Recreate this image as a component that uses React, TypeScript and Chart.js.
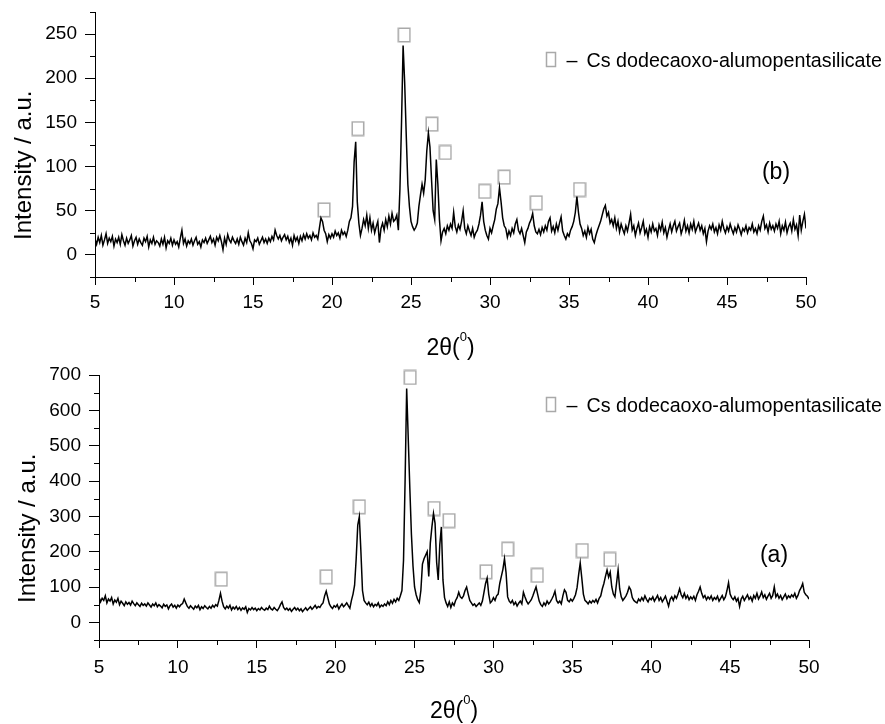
import React, { useEffect, useRef } from 'react';
import { Chart, registerables } from 'chart.js';

Chart.register(...registerables);

// 2θ grid of the scans (degrees)
const TWO_THETA_START = 5;
const TWO_THETA_STEP = 0.1;

// (b) intensities, 5.0° … 50.0° every 0.1°
const INTENSITY_B = [
  18, 12, 20, 14, 22, 11, 17, 24, 13, 19,
  15, 21, 10, 18, 14, 20, 12, 23, 16, 11,
  19, 13, 17, 22, 10, 16, 20, 12, 18, 14,
  11, 19, 15, 21, 9, 17, 13, 20, 12, 16,
  14, 10, 18, 12, 20, 8, 16, 13, 19, 11,
  17, 12, 15, 9, 19, 28, 13, 18, 10, 16,
  13, 18, 11, 16, 20, 12, 15, 9, 17, 14,
  19, 13, 17, 21, 14, 18, 11, 20, 16, 22,
  15, 6, 19, 12, 23, 17, 14, 20, 16, 13,
  18, 12, 20, 15, 11, 19, 14, 25, 16, 13,
  7, 17, 15, 19, 12, 16, 20, 14, 18, 13,
  19, 15, 21, 17, 28, 22, 18, 22, 16, 20,
  23, 17, 21, 14, 19, 11, 22, 16, 20, 13,
  21, 16, 23, 18, 24, 19, 22, 17, 25, 20,
  22, 18, 30, 42, 38, 28, 24, 15, 23, 19,
  24, 20, 27, 22, 25, 19, 28, 23, 26, 21,
  28, 38, 42, 55, 105, 128, 60, 36, 22, 30,
  40, 33, 45, 30, 42, 28, 36, 25, 32, 38,
  14, 30, 36, 28, 40, 32, 44, 35, 47, 38,
  40, 45, 28, 75, 150, 237, 195, 135, 80, 55,
  38, 32, 28, 31, 36, 55, 68, 80, 70, 85,
  118, 138, 122, 85, 50, 40, 108, 80, 40, 16,
  26, 30, 24, 33, 28, 35, 30, 48, 32, 26,
  34, 29, 38, 50, 30, 24, 33, 27, 22, 30,
  20, 25, 28, 35, 45, 60, 38, 28, 22, 18,
  30, 25, 33, 40, 52, 58, 76, 60, 42, 33,
  30, 20, 27, 22, 30, 25, 35, 40, 28, 24,
  30, 22, 14, 26, 30, 36, 40, 47, 33, 26,
  24, 29, 23, 31, 26, 33, 28, 38, 42, 27,
  32, 25, 35, 28, 36, 43, 27, 22, 18, 24,
  21, 28, 32, 38, 48, 66, 48, 35, 30, 22,
  27, 20, 31, 24, 29, 18, 14, 22, 28, 33,
  38, 45, 52, 56, 44, 48, 36, 40, 33, 42,
  30, 38, 26, 35, 29, 24, 33, 27, 36, 46,
  28, 33, 22, 30, 36, 25, 31, 38, 24, 29,
  20, 32, 26, 35, 27, 30, 22, 34, 28, 37,
  25, 31, 20, 28, 35, 26, 33, 38, 27, 32,
  36, 24, 30, 39, 27, 33, 25, 35, 29, 38,
  26, 31, 36, 28, 33, 24, 30, 15, 27, 33,
  29, 35, 26, 31, 24, 34, 28, 38, 30, 25,
  32, 27, 35, 29, 24, 31, 26, 34, 29, 23,
  30, 27, 33, 25, 31, 28, 35, 26, 30, 24,
  33, 28, 38, 44, 30, 34, 26, 36, 29, 33,
  27, 35, 30, 38, 24, 33, 28, 37, 25, 32,
  36, 27, 40, 29, 34, 22, 45, 28, 38, 46,
  30,
];

// (a) intensities, 5.0° … 50.0° every 0.1°
const INTENSITY_A = [
  72, 58, 68, 62, 75, 55, 66, 60, 70, 52,
  63, 57, 68, 50, 60, 54, 47, 58, 51, 56,
  49, 60, 53, 47, 55, 50, 45, 54, 48, 52,
  46, 55, 49, 43, 52, 47, 55, 44, 50, 46,
  41, 51, 45, 49, 38, 47, 52, 43, 48, 40,
  49, 44, 50, 53, 66, 55, 45, 40, 47, 42,
  37, 46, 41, 48, 36, 44, 39, 47, 42, 38,
  45, 40, 48, 43, 50, 46, 62, 82, 60, 44,
  38, 46, 40, 48, 35, 43, 38, 45, 36, 42,
  34, 41, 37, 44, 28, 39, 35, 42, 36, 40,
  33, 39, 35, 42, 37, 34, 40, 36, 46, 38,
  35, 42, 37, 33, 40, 50, 58, 42, 36, 40,
  34, 39, 31, 37, 42, 35, 40, 33, 38, 30,
  36, 41, 34, 39, 44, 37, 42, 48, 40, 45,
  42, 50, 55, 75, 88, 70, 52, 44, 39, 47,
  43, 50, 38, 46, 52, 44, 49, 55, 47, 40,
  62, 80, 105, 180, 275, 299, 200, 90, 62, 55,
  50, 57, 46, 53, 44, 51, 47, 55, 43, 49,
  45, 52, 47, 58, 50, 62, 54, 65, 58, 68,
  62, 75, 90, 175, 400, 662, 520, 380, 250, 160,
  100, 78, 64, 56, 90, 165, 180, 190, 200, 130,
  225, 270, 308, 280, 170, 120, 220, 270, 120, 70,
  55, 45, 58, 42, 55, 48, 62, 70, 85, 72,
  68, 75, 90, 100, 80, 62, 55, 48, 52, 45,
  50, 55, 48, 60, 85, 110, 125, 80, 55, 60,
  70, 62, 75, 80, 110, 130, 150, 180, 140, 72,
  60, 55, 62, 50, 57, 46, 54, 60, 52, 85,
  72, 60, 52, 58, 64, 75, 88, 100, 80, 60,
  50, 45, 55, 48, 60, 52, 58, 66, 75, 88,
  62, 55, 60, 52, 75, 92, 85, 62, 58, 66,
  60, 68, 78, 98, 135, 168, 125, 80, 62, 58,
  52, 60, 55, 62, 57, 65, 55, 68, 75, 95,
  110, 130, 148, 128, 142, 100, 80, 72, 110, 148,
  95, 72, 62, 68, 75, 85, 100, 92, 70, 62,
  58, 55, 66, 60, 70, 62, 75, 65, 58, 68,
  64, 72, 60, 68, 76, 62, 70, 58, 66, 74,
  60, 46, 65, 72, 62, 75, 68, 80, 95, 78,
  70, 82, 68, 76, 64, 72, 66, 74, 62, 78,
  88, 100, 82, 70, 76, 64, 72, 66, 75, 62,
  70, 65, 74, 60, 68, 76, 64, 72, 90, 112,
  80, 70, 64, 72, 60, 68, 45, 66, 74, 62,
  70, 78, 65, 72, 60, 76, 68, 82, 66, 74,
  86, 70, 78, 65, 74, 82, 68, 76, 100, 72,
  80, 68, 76, 64, 72, 80, 67, 75, 70, 78,
  72, 82, 68, 76, 90, 98, 110, 85, 78, 74,
  66,
];

// peak marks (□) : positions in 2θ and intensity units
const MARK_B_X = [19.5, 21.64, 24.57, 26.32, 27.17, 29.66, 30.9, 32.93, 35.67];
const MARK_B_Y = [51, 143, 249, 148, 116, 72, 88, 59, 74];
const MARK_A_X = [12.75, 19.4, 21.5, 24.72, 26.24, 27.19, 29.53, 30.9, 32.78, 35.63, 37.38];
const MARK_A_Y = [122, 129, 327, 693, 322, 288, 143, 207, 133, 203, 178];

// axes
const X_TICKS = [5, 10, 15, 20, 25, 30, 35, 40, 45, 50];
const X_MINOR = [7.5, 12.5, 17.5, 22.5, 27.5, 32.5, 37.5, 42.5, 47.5];
const Y_TICKS_B = [0, 50, 100, 150, 200, 250];
const Y_MINOR_B = [-25, 25, 75, 125, 175, 225, 275];
const Y_TICKS_A = [0, 100, 200, 300, 400, 500, 600, 700];
const Y_MINOR_A = [-50, 50, 150, 250, 350, 450, 550, 650];

const Y_TITLE = 'Intensity / a.u.';
const X_TITLE_MAIN = '2θ(';
const X_TITLE_SUP = '0';
const X_TITLE_END = ')';
const LEGEND_DASH = '–';
const LEGEND_TEXT = 'Cs dodecaoxo-alumopentasilicate';

const FONT = "Arial, 'Liberation Sans', sans-serif";
const MARK_GRAY = '#a9a9a9';

function makeBox(): HTMLCanvasElement {
  const c = document.createElement('canvas');
  c.width = 14;
  c.height = 16;
  const g = c.getContext('2d')!;
  g.strokeStyle = MARK_GRAY;
  g.lineWidth = 1.5;
  g.strokeRect(1.25, 1.25, 11.5, 13.5);
  return c;
}

type PanelCfg = {
  top: number;
  height: number;
  padTop: number;
  padRight: number;
  yWidth: number;
  xHeight: number;
  yMin: number;
  yMax: number;
  yTicks: number[];
  yMinor: number[];
  values: number[];
  markX: number[];
  markY: number[];
  tag: string;
  tagX: number;
  tagY: number;
  legendY: number;
  xPad: number;
};

function Panel({ cfg }: { cfg: PanelCfg }) {
  const ref = useRef<HTMLCanvasElement | null>(null);
  useEffect(() => {
    const canvas = ref.current!;
    const line = cfg.values.map((v, i) => ({
      x: +(TWO_THETA_START + i * TWO_THETA_STEP).toFixed(1),
      y: v,
    }));
    const marks = cfg.markX.map((x, i) => ({ x, y: cfg.markY[i] }));
    const box = makeBox();

    const decor = {
      id: 'decor',
      afterDraw(chart: any) {
        const ctx = chart.ctx as CanvasRenderingContext2D;
        const { left, right, bottom } = chart.chartArea;
        const xs = chart.scales.x;
        const ys = chart.scales.y;
        ctx.save();
        // minor ticks
        ctx.strokeStyle = '#000';
        ctx.lineWidth = 1;
        ctx.beginPath();
        for (const v of cfg.yMinor) {
          const py = Math.round(ys.getPixelForValue(v)) + 0.5;
          ctx.moveTo(left - 5, py);
          ctx.lineTo(left, py);
        }
        for (const v of X_MINOR) {
          const px = Math.round(xs.getPixelForValue(v)) + 0.5;
          ctx.moveTo(px, bottom);
          ctx.lineTo(px, bottom + 5);
        }
        ctx.stroke();

        ctx.fillStyle = '#000';
        // x title with superscript
        const cx = (left + right) / 2;
        const base = bottom + 78;
        ctx.font = `23px ${FONT}`;
        const w1 = ctx.measureText(X_TITLE_MAIN).width;
        const w3 = ctx.measureText(X_TITLE_END).width;
        ctx.font = `13px ${FONT}`;
        const w2 = ctx.measureText(X_TITLE_SUP).width;
        const sx = cx - (w1 + w2 + w3) / 2;
        ctx.textBaseline = 'alphabetic';
        ctx.textAlign = 'left';
        ctx.font = `23px ${FONT}`;
        ctx.fillText(X_TITLE_MAIN, sx, base);
        ctx.font = `13px ${FONT}`;
        ctx.fillText(X_TITLE_SUP, sx + w1, base - 14);
        ctx.font = `23px ${FONT}`;
        ctx.fillText(X_TITLE_END, sx + w1 + w2, base);

        // y title
        ctx.save();
        ctx.translate(left - 64, bottom - 37);
        ctx.rotate(-Math.PI / 2);
        ctx.font = `24px ${FONT}`;
        ctx.textAlign = 'left';
        ctx.fillText(Y_TITLE, 0, 0);
        ctx.restore();

        // panel tag
        ctx.font = `23px ${FONT}`;
        ctx.textAlign = 'center';
        ctx.textBaseline = 'middle';
        ctx.fillText(cfg.tag, cfg.tagX, cfg.tagY);

        // legend
        ctx.strokeStyle = MARK_GRAY;
        ctx.lineWidth = 1.5;
        ctx.strokeRect(546.5, cfg.legendY - 14.5, 9, 14);
        ctx.font = `19.7px ${FONT}`;
        ctx.textAlign = 'left';
        ctx.textBaseline = 'alphabetic';
        ctx.fillStyle = '#000';
        ctx.fillText(LEGEND_DASH, 566.5, cfg.legendY);
        ctx.fillText(LEGEND_TEXT, 586.5, cfg.legendY);
        ctx.restore();
      },
    };

    const chart = new Chart(canvas, {
      type: 'line',
      data: {
        datasets: [
          {
            data: line,
            borderColor: '#000',
            borderWidth: 1.5,
            pointRadius: 0,
            tension: 0,
            fill: false,
          } as any,
          {
            type: 'scatter',
            data: marks,
            pointStyle: box,
            pointRadius: 7,
            showLine: false,
            clip: false,
          } as any,
        ],
      },
      options: {
        animation: false,
        responsive: false,
        maintainAspectRatio: false,
        devicePixelRatio: 1,
        layout: { padding: { left: 0, right: cfg.padRight, top: cfg.padTop, bottom: 0 } },
        plugins: { legend: { display: false }, tooltip: { enabled: false } },
        scales: {
          x: {
            type: 'linear',
            min: 5,
            max: 50,
            afterBuildTicks: (s: any) => {
              s.ticks = X_TICKS.map((v) => ({ value: v }));
            },
            afterFit: (s: any) => {
              s.height = cfg.xHeight;
              s.paddingLeft = 0;
              s.paddingRight = 0;
            },
            grid: { display: true, drawOnChartArea: false, drawTicks: true, tickLength: 8, color: '#000', tickWidth: 1 },
            border: { display: true, color: '#000', width: 1 },
            ticks: { color: '#000', font: { family: FONT, size: 19 }, padding: cfg.xPad, maxRotation: 0, autoSkip: false },
          },
          y: {
            type: 'linear',
            min: cfg.yMin,
            max: cfg.yMax,
            afterBuildTicks: (s: any) => {
              s.ticks = cfg.yTicks.map((v) => ({ value: v }));
            },
            afterFit: (s: any) => {
              s.width = cfg.yWidth;
              s.paddingTop = 0;
              s.paddingBottom = 0;
            },
            grid: { display: true, drawOnChartArea: false, drawTicks: true, tickLength: 10, color: '#000', tickWidth: 1 },
            border: { display: true, color: '#000', width: 1 },
            ticks: { color: '#000', font: { family: FONT, size: 19 }, padding: 8, autoSkip: false },
          },
        },
      } as any,
      plugins: [decor],
    });
    return () => chart.destroy();
  }, [cfg]);

  return (
    <canvas
      ref={ref}
      width={885}
      height={cfg.height}
      style={{ position: 'absolute', left: 0, top: cfg.top, width: 885, height: cfg.height, display: 'block' }}
    />
  );
}

const TOP: PanelCfg = {
  top: 0,
  height: 365,
  padTop: 12,
  padRight: 79,
  yWidth: 95,
  xHeight: 88,
  yMin: -25,
  yMax: 275,
  yTicks: Y_TICKS_B,
  yMinor: Y_MINOR_B,
  values: INTENSITY_B,
  markX: MARK_B_X,
  markY: MARK_B_Y,
  tag: '(b)',
  tagX: 776,
  tagY: 173,
  legendY: 67,
  xPad: 6,
};

const BOTTOM: PanelCfg = {
  top: 365,
  height: 359,
  padTop: 10,
  padRight: 76,
  yWidth: 99,
  xHeight: 84,
  yMin: -50,
  yMax: 700,
  yTicks: Y_TICKS_A,
  yMinor: Y_MINOR_A,
  values: INTENSITY_A,
  markX: MARK_A_X,
  markY: MARK_A_Y,
  tag: '(a)',
  tagX: 774,
  tagY: 191,
  legendY: 47,
  xPad: 8,
};

export default function App() {
  return (
    <div style={{ position: 'fixed', left: 0, top: 0, width: 885, height: 724, background: '#fff', overflow: 'hidden' }}>
      <Panel cfg={TOP} />
      <Panel cfg={BOTTOM} />
    </div>
  );
}
